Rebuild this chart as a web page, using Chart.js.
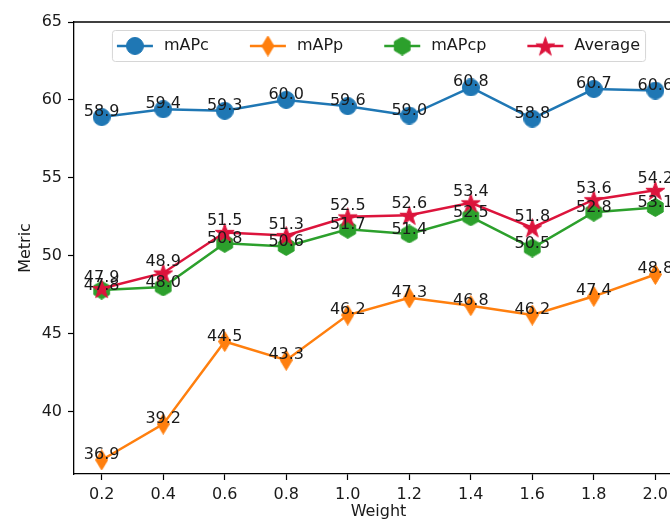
<!DOCTYPE html>
<html>
<head>
<meta charset="utf-8">
<script src="https://cdn.jsdelivr.net/npm/chart.js@4.4.1/dist/chart.umd.min.js"></script>
<style>
	html, body { margin: 0; padding: 0; background: #fff; }
	#wrap { width: 670px; height: 525px; overflow: hidden; }
</style>
</head>
<body>
<div id="wrap"><canvas id="chart" width="700" height="525"></canvas></div>
<script>
const weights = [0.2, 0.4, 0.6, 0.8, 1.0, 1.2, 1.4, 1.6, 1.8, 2.0];
const mAPc = [58.9, 59.4, 59.3, 60.0, 59.6, 59.0, 60.8, 58.8, 60.7, 60.6];
const mAPp = [36.9, 39.2, 44.5, 43.3, 46.2, 47.3, 46.8, 46.2, 47.4, 48.8];
const mAPcp = [47.8, 48.0, 50.8, 50.6, 51.7, 51.4, 52.5, 50.5, 52.8, 53.1];
const average = [47.9, 48.9, 51.5, 51.3, 52.5, 52.6, 53.4, 51.8, 53.6, 54.2];
const yTicks = [40, 45, 50, 55, 60, 65];

const FONT = '"DejaVu Sans", sans-serif';
const TEXT = '#1a1a1a';

// marker images, drawn once and handed to chart.js as pointStyle
function marker(w, h, color, shape) {
	const c = document.createElement('canvas');
	c.width = w;
	c.height = h;
	const ctx = c.getContext('2d');
	const cx = w / 2, cy = h / 2;
	ctx.fillStyle = color;
	ctx.strokeStyle = color;
	ctx.lineWidth = 1;
	ctx.beginPath();
	if (shape === 'circle') {
		ctx.arc(cx, cy, w / 2 - 0.5, 0, Math.PI * 2);
	} else if (shape === 'thin') {
		ctx.moveTo(cx, 0.5);
		ctx.lineTo(w - 0.5, cy);
		ctx.lineTo(cx, h - 0.5);
		ctx.lineTo(0.5, cy);
	} else if (shape === 'hex') {
		const r = w / 2 - 0.5;
		for (let i = 0; i < 6; i++) {
			const a = -Math.PI / 2 + i * Math.PI / 3;
			ctx.lineTo(cx + r * Math.cos(a), cy + r * Math.sin(a));
		}
	} else if (shape === 'star') {
		const R = w / 2 - 0.5, r = R * 0.382;
		for (let i = 0; i < 10; i++) {
			const a = -Math.PI / 2 + i * Math.PI / 5;
			const rr = i % 2 ? r : R;
			ctx.lineTo(cx + rr * Math.cos(a), cy + 1 + rr * Math.sin(a));
		}
	}
	ctx.closePath();
	ctx.fill();
	ctx.stroke();
	return c;
}

// lift = how far above the point the value label sits
const series = [
	{ label: 'mAPc', data: mAPc, color: '#1f77b4', lift: 1, img: marker(18, 18, '#1f77b4', 'circle') },
	{ label: 'mAPp', data: mAPp, color: '#ff7f0e', lift: 1, img: marker(13, 21, '#ff7f0e', 'thin') },
	{ label: 'mAPcp', data: mAPcp, color: '#2ca02c', lift: 0, img: marker(19, 19, '#2ca02c', 'hex') },
	{ label: 'Average', data: average, color: '#dc143c', lift: 7, img: marker(21, 21, '#dc143c', 'star') }
];

const extras = {
	id: 'extras',
	afterDatasetsDraw(chart) {
		const ctx = chart.ctx;
		ctx.save();
		ctx.font = '16px ' + FONT;
		ctx.fillStyle = TEXT;
		ctx.textAlign = 'center';
		ctx.textBaseline = 'alphabetic';
		chart.data.datasets.forEach((ds, i) => {
			chart.getDatasetMeta(i).data.forEach((pt, j) => {
				ctx.fillText(ds.data[j].y.toFixed(1), pt.x, pt.y - series[i].lift);
			});
		});
		ctx.restore();
	},
	afterDraw(chart) {
		const ctx = chart.ctx;
		const a = chart.chartArea;
		ctx.save();
		// top spine
		ctx.strokeStyle = '#000';
		ctx.lineWidth = 1.3;
		ctx.beginPath();
		ctx.moveTo(a.left, a.top);
		ctx.lineTo(a.right, a.top);
		ctx.stroke();

		// legend, upper center inside the axes
		ctx.font = '16px ' + FONT;
		const lineLen = 36, gap = 11, colGap = 41, pad = 5;
		let total = pad * 2;
		series.forEach((s, i) => {
			total += lineLen + gap + ctx.measureText(s.label).width;
			if (i < series.length - 1) total += colGap;
		});
		const bx = (a.left + a.right) / 2 - total / 2;
		const by = 30, bh = 31;
		ctx.fillStyle = 'rgba(255,255,255,0.8)';
		ctx.strokeStyle = '#d6d6d6';
		ctx.lineWidth = 1;
		ctx.beginPath();
		ctx.roundRect(bx + 0.5, by + 0.5, total, bh, 3);
		ctx.fill();
		ctx.stroke();
		let x = bx + pad;
		const cy = by + bh / 2 + 0.5;
		series.forEach((s) => {
			ctx.strokeStyle = s.color;
			ctx.lineWidth = 2.5;
			ctx.beginPath();
			ctx.moveTo(x, cy);
			ctx.lineTo(x + lineLen, cy);
			ctx.stroke();
			ctx.drawImage(s.img, x + lineLen / 2 - s.img.width / 2, cy - s.img.height / 2);
			x += lineLen + gap;
			ctx.fillStyle = TEXT;
			ctx.textAlign = 'left';
			ctx.textBaseline = 'middle';
			ctx.fillText(s.label, x, cy);
			x += ctx.measureText(s.label).width + colGap;
		});
		ctx.restore();
	}
};

new Chart(document.getElementById('chart'), {
	type: 'line',
	data: {
		datasets: series.map((s, i) => ({
			label: s.label,
			data: weights.map((w, j) => ({ x: w, y: s.data[j] })),
			borderColor: s.color,
			backgroundColor: s.color,
			borderWidth: 2.5,
			pointStyle: s.img,
			tension: 0,
			order: 3 - i
		}))
	},
	options: {
		responsive: false,
		animation: false,
		devicePixelRatio: 1,
		layout: { padding: { top: 22, right: 17, left: 0, bottom: 0 } },
		plugins: {
			legend: { display: false },
			tooltip: { enabled: false }
		},
		scales: {
			x: {
				type: 'linear',
				min: 0.11,
				max: 2.09,
				afterFit: (scale) => { scale.height = 51; },
				afterBuildTicks: (scale) => { scale.ticks = weights.map((v) => ({ value: v })); },
				grid: { display: true, drawOnChartArea: false, tickLength: 6, tickColor: '#000', tickWidth: 1.2 },
				border: { display: true, color: '#000', width: 1.3 },
				ticks: {
					font: { family: FONT, size: 16 },
					color: TEXT,
					padding: 5,
					maxRotation: 0,
					autoSkip: false,
					callback: (v) => Number(v).toFixed(1)
				},
				title: {
					display: true,
					text: 'Weight',
					font: { family: FONT, size: 16 },
					color: TEXT,
					padding: { top: 0, bottom: 4 }
				}
			},
			y: {
				min: 36.0,
				max: 65,
				afterFit: (scale) => { scale.width = 74; },
				afterBuildTicks: (scale) => { scale.ticks = yTicks.map((v) => ({ value: v })); },
				grid: { display: true, drawOnChartArea: false, tickLength: 6, tickColor: '#000', tickWidth: 1.2 },
				border: { display: true, color: '#000', width: 1.3 },
				ticks: {
					font: { family: FONT, size: 16 },
					color: TEXT,
					padding: 6
				},
				title: {
					display: true,
					text: 'Metric',
					font: { family: FONT, size: 16 },
					color: TEXT,
					padding: { top: 16, bottom: 0 }
				}
			}
		}
	},
	plugins: [extras]
});
</script>
</body>
</html>
